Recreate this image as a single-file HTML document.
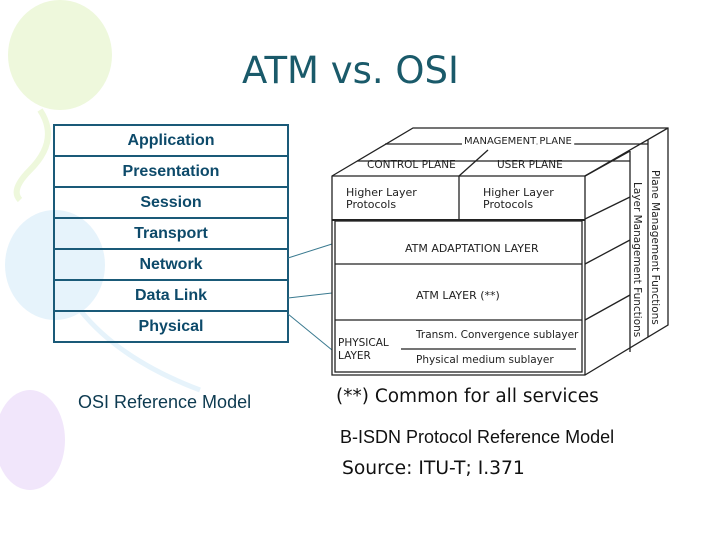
<!DOCTYPE html>
<html><head><meta charset="utf-8"><style>
body{margin:0;width:720px;height:540px;overflow:hidden;background:#fff;position:relative;font-family:"Liberation Sans",sans-serif}
.t{position:absolute;white-space:nowrap}
</style></head><body>
<svg width="720" height="540" style="position:absolute;left:0;top:0">
<ellipse cx="60" cy="55" rx="52" ry="55" fill="#eef8dc"/>
<path d="M40 110 Q60 140 30 170 Q10 190 20 200" stroke="#eef8dc" stroke-width="6" fill="none"/>
<ellipse cx="55" cy="265" rx="50" ry="55" fill="#e6f3fb"/>
<path d="M80 310 Q120 360 200 390" stroke="#e6f3fb" stroke-width="5" fill="none"/>
<ellipse cx="30" cy="440" rx="35" ry="50" fill="#f1e6fb"/>
<g stroke="#1a5a78" stroke-width="2" fill="none">
<rect x="54" y="125" width="234" height="217"/>
<line x1="54" y1="156" x2="288" y2="156"/><line x1="54" y1="187" x2="288" y2="187"/>
<line x1="54" y1="218" x2="288" y2="218"/><line x1="54" y1="249" x2="288" y2="249"/>
<line x1="54" y1="280" x2="288" y2="280"/><line x1="54" y1="311" x2="288" y2="311"/>
</g>
<g stroke="#3a7a90" stroke-width="1" fill="none">
<line x1="288" y1="258" x2="332" y2="244"/>
<line x1="288" y1="298" x2="332" y2="293"/>
<line x1="288" y1="314" x2="332" y2="350"/>
</g>
<g stroke="#222" stroke-width="1.3" fill="none">
<polygon points="332,176 413,128 668,128 668,325 585,375 332,375" fill="#fff"/>
<line x1="332" y1="176" x2="585" y2="176"/>
<line x1="585" y1="176" x2="668" y2="128"/>
<line x1="585" y1="176" x2="585" y2="375"/>
<line x1="357" y1="161" x2="630" y2="161"/>
<line x1="385" y1="144" x2="648" y2="144"/>
<line x1="459" y1="176" x2="488" y2="150"/>
<line x1="630" y1="151" x2="630" y2="352"/>
<line x1="648" y1="140" x2="648" y2="337"/>
<line x1="585" y1="176" x2="630" y2="151"/>
<line x1="585" y1="219" x2="630" y2="197"/>
<line x1="585" y1="264" x2="630" y2="240"/>
<line x1="585" y1="320" x2="630" y2="295"/>
<line x1="459" y1="176" x2="459" y2="220"/>
<rect x="335" y="221" width="247" height="151"/>
<line x1="332" y1="220" x2="585" y2="220" stroke-width="2"/>
<line x1="335" y1="264" x2="582" y2="264"/>
<line x1="335" y1="320" x2="582" y2="320"/>
<line x1="401" y1="349" x2="576" y2="349"/>
</g>
<g font-family="DejaVu Sans,sans-serif" font-size="11" fill="#222">
<text x="464" y="144" font-size="10" fill="#fff" stroke="#fff" stroke-width="6">MANAGEMENT PLANE</text>
<text x="464" y="144" font-size="10">MANAGEMENT PLANE</text>
<text x="367" y="168" font-size="10.5">CONTROL PLANE</text>
<text x="497" y="168" font-size="10.5">USER PLANE</text>
<text x="346" y="196">Higher Layer</text><text x="346" y="208">Protocols</text>
<text x="483" y="196">Higher Layer</text><text x="483" y="208">Protocols</text>
<text x="405" y="252" font-size="11">ATM ADAPTATION LAYER</text>
<text x="416" y="299" font-size="11">ATM LAYER (**)</text>
<text x="416" y="338" font-size="10.5">Transm. Convergence sublayer</text>
<text x="416" y="363" font-size="10.5">Physical medium sublayer</text>
<text x="338" y="346" font-size="10.5">PHYSICAL</text>
<text x="338" y="359" font-size="10.5">LAYER</text>
<text transform="translate(634,182) rotate(90)" font-size="10.5">Layer Management Functions</text>
<text transform="translate(652,170) rotate(90)" font-size="10.5">Plane Management Functions</text>
</g>
</svg>
<div class="t" style="left:242px;top:49px;font-size:37px;font-family:'DejaVu Sans',sans-serif;color:#1a5a6a">ATM vs. OSI</div>
<div style="position:absolute;left:54px;top:125px;width:234px;color:#0d4a6a;font-weight:bold;font-size:16px;text-align:center;line-height:31px">
<div>Application</div><div>Presentation</div><div>Session</div><div>Transport</div><div>Network</div><div>Data Link</div><div>Physical</div></div>
<div class="t" style="left:78px;top:392px;font-size:18px;color:#0d3a50">OSI Reference Model</div>
<div class="t" style="left:336px;top:386px;font-size:18.5px;font-family:'DejaVu Sans',sans-serif;color:#111">(**) Common for all services</div>
<div class="t" style="left:340px;top:427px;font-size:18px;color:#111">B-ISDN Protocol Reference Model</div>
<div class="t" style="left:342px;top:458px;font-size:18.7px;font-family:'DejaVu Sans',sans-serif;color:#111">Source: ITU-T; I.371</div>
</body></html>
